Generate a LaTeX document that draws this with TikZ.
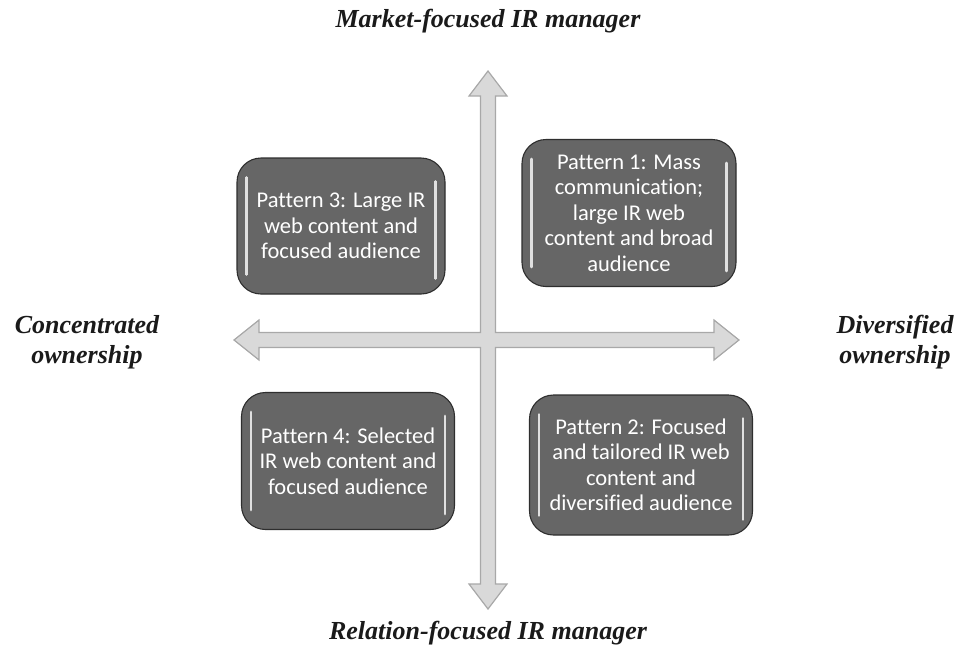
\documentclass[tikz,border=0pt]{standalone}
\usepackage{fontspec}
\setmainfont{Liberation Serif}
\newfontfamily\boxfont[Ligatures=NoCommon]{Carlito}
\definecolor{boxgray}{HTML}{666666}
\definecolor{boxedge}{HTML}{2E2E2E}
\definecolor{arrowfill}{HTML}{D9D9D9}
\definecolor{arrowedge}{HTML}{A8A8A8}
\definecolor{labeltext}{HTML}{1A1A1A}
\tikzset{
  patternbox/.style={draw=boxedge, line width=1.1pt, fill=boxgray, rounded corners=24pt,
    text=white, font=\boxfont\fontsize{22.5}{25.5}\selectfont, align=center,
    inner sep=0pt},
  axislabel/.style={font=\bfseries\itshape\fontsize{26}{29.5}\selectfont, text=labeltext, align=center},
  gloss/.style={white, line width=2.6pt, line cap=round, opacity=0.8}
}
\newcommand{\glossbox}[1]{%
  \draw[gloss] ([xshift=10pt,yshift=-20pt]#1.north west) -- ([xshift=10pt,yshift=20pt]#1.south west);
  \draw[gloss] ([xshift=-10pt,yshift=-24pt]#1.north east) -- ([xshift=-10pt,yshift=16pt]#1.south east);
}
\begin{document}
\begin{tikzpicture}[x=1pt,y=-1pt]
\useasboundingbox (0,0) rectangle (971,656);
% cross-shaped double arrows
\draw[draw=arrowedge, fill=arrowfill, line width=1.2pt, line join=miter]
  (488,71) -- (507,96) -- (495.5,96) -- (495.5,332.5)
  -- (714,332.5) -- (714,320) -- (739,340) -- (714,360) -- (714,347.5)
  -- (495.5,347.5) -- (495.5,584) -- (507,584) -- (488,609) -- (469,584)
  -- (480.5,584) -- (480.5,347.5) -- (259,347.5) -- (259,360) -- (234,340)
  -- (259,320) -- (259,332.5) -- (480.5,332.5) -- (480.5,96) -- (469,96) -- cycle;

% boxes
\node[patternbox, minimum width=208pt, minimum height=136pt] (p3) at (341,226)
  {Pattern 3: Large IR\\web content and\\focused audience};
\node[patternbox, minimum width=214pt, minimum height=147pt] (p1) at (629,213)
  {Pattern 1: Mass\\communication;\\large IR web\\content and broad\\audience};
\node[patternbox, minimum width=213pt, minimum height=137pt] (p4) at (348,461)
  {Pattern 4: Selected\\IR web content and\\focused audience};
\node[patternbox, minimum width=223pt, minimum height=140pt] (p2) at (641,465)
  {Pattern 2: Focused\\and tailored IR web\\content and\\diversified audience};
\glossbox{p3}
\glossbox{p1}
\glossbox{p4}
\glossbox{p2}

% axis labels
\node[axislabel] (top) at (488,21) {Market-focused IR manager};
\node[axislabel] (bottom) at (488,633) {Relation-focused IR manager};
\node[axislabel] (left) at (87,342) {Concentrated\\ownership};
\node[axislabel] (right) at (895,342) {Diversified\\ownership};
\end{tikzpicture}
\end{document}
